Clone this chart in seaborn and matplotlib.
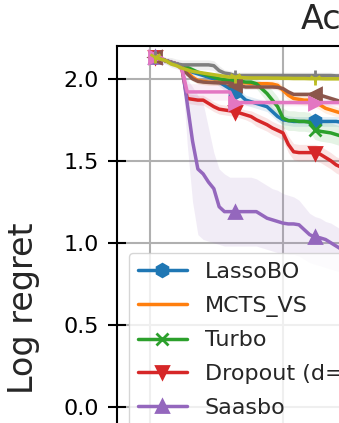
import matplotlib
matplotlib.use("Agg")
import matplotlib.pyplot as plt
import seaborn as sns

# ---------------- data ----------------
iterations = [2, 4, 6, 8, 10, 12, 14, 16, 18, 20, 22, 24, 26, 28, 30, 32, 34, 36, 38,
              40, 42, 44, 46, 48, 50, 52, 54, 56, 58, 60, 62, 64, 66, 68, 70, 72, 74, 76]

names = ["LassoBO", "MCTS_VS", "Turbo", "Dropout (d=10)", "Saasbo",
         "HeSBO", "Alebo", "Random", "CMA-ES"]

lasso = [2.13, 2.12, 2.11, 2.10, 2.09, 2.08, 2.06, 2.04, 2.03, 2.02, 2.01, 2.00, 1.98, 1.96,
         1.94, 1.92, 1.90, 1.87, 1.86, 1.85, 1.84, 1.83, 1.80, 1.77, 1.75, 1.745, 1.74, 1.74,
         1.74, 1.74, 1.74, 1.74, 1.74, 1.74, 1.74, 1.735, 1.735, 1.735]
mcts = [2.13, 2.12, 2.11, 2.10, 2.09, 2.08, 2.04, 2.01, 1.99, 1.985, 1.98, 1.98, 1.98, 1.978,
        1.976, 1.975, 1.975, 1.975, 1.972, 1.97, 1.97, 1.97, 1.968, 1.96, 1.93, 1.90, 1.88,
        1.875, 1.87, 1.87, 1.86, 1.84, 1.82, 1.81, 1.80, 1.79, 1.78, 1.77]
turbo = [2.13, 2.12, 2.11, 2.10, 2.09, 2.08, 2.07, 2.055, 2.04, 2.03, 2.02, 2.01, 2.00, 1.995,
         1.99, 1.985, 1.985, 1.98, 1.98, 1.97, 1.94, 1.91, 1.87, 1.83, 1.76, 1.745, 1.745,
         1.74, 1.74, 1.735, 1.69, 1.68, 1.675, 1.67, 1.66, 1.65, 1.64, 1.63]
dropout = [2.13, 2.12, 2.11, 2.10, 2.09, 2.06, 1.88, 1.875, 1.87, 1.87, 1.85, 1.83, 1.815, 1.81,
           1.805, 1.80, 1.79, 1.78, 1.77, 1.75, 1.735, 1.72, 1.70, 1.685, 1.67, 1.60, 1.555,
           1.55, 1.55, 1.55, 1.55, 1.54, 1.52, 1.50, 1.475, 1.46, 1.45, 1.44]
saasbo = [2.13, 2.12, 2.11, 2.10, 2.09, 2.08, 1.85, 1.62, 1.45, 1.42, 1.37, 1.33, 1.22, 1.19,
          1.19, 1.19, 1.19, 1.19, 1.19, 1.19, 1.17, 1.15, 1.14, 1.13, 1.12, 1.115, 1.115,
          1.11, 1.08, 1.05, 1.035, 1.03, 1.02, 1.00, 0.98, 0.96, 0.95, 0.94]
hesbo = [2.13, 2.12, 2.11, 2.10, 2.09, 2.07, 2.03, 2.00, 1.985, 1.98, 1.978, 1.976, 1.975,
         1.975, 1.975, 1.965, 1.955, 1.95, 1.95, 1.95, 1.95, 1.95, 1.95, 1.948, 1.94, 1.92,
         1.905, 1.905, 1.905, 1.905, 1.905, 1.90, 1.89, 1.88, 1.87, 1.86, 1.85, 1.85]
alebo = [2.13, 2.12, 2.11, 2.10, 2.09, 2.06, 1.92, 1.92, 1.92, 1.92, 1.92, 1.92, 1.92, 1.92,
         1.92, 1.855, 1.855, 1.855, 1.855, 1.855, 1.855, 1.855, 1.855, 1.855, 1.855, 1.855,
         1.855, 1.855, 1.855, 1.855, 1.855, 1.855, 1.855, 1.855, 1.855, 1.855, 1.855, 1.855]
rand = [2.13, 2.12, 2.11, 2.10, 2.09, 2.085, 2.085, 2.085, 2.085, 2.085, 2.085, 2.08, 2.05,
        2.035, 2.03, 2.02, 2.02, 2.02, 2.02, 2.02, 2.02, 2.02, 2.02, 2.02, 2.02, 2.02, 2.02,
        2.02, 2.02, 2.02, 2.02, 2.02, 2.02, 2.02, 2.018, 2.018, 2.018, 2.018]
cmaes = [2.13, 2.12, 2.11, 2.09, 2.08, 2.065, 2.055, 2.045, 2.04, 2.035, 2.03, 2.025, 2.02,
         2.015, 2.01, 2.01, 2.008, 2.006, 2.005, 2.005, 2.005, 2.005, 2.004, 2.004, 2.003,
         2.003, 2.002, 2.002, 2.002, 2.001, 2.001, 2.001, 2.0, 2.0, 2.0, 2.0, 2.0, 2.0]

# half-widths of the shaded bands
lasso_sd = [0.01, 0.01, 0.01, 0.01, 0.01, 0.01, 0.015, 0.015, 0.02, 0.02, 0.02, 0.02, 0.025,
            0.03, 0.03, 0.03, 0.03, 0.03, 0.03, 0.03, 0.03, 0.03, 0.03, 0.03, 0.03, 0.03, 0.03,
            0.03, 0.03, 0.03, 0.03, 0.03, 0.03, 0.03, 0.03, 0.03, 0.03, 0.03]
mcts_sd = [0.01, 0.01, 0.01, 0.01, 0.01, 0.01, 0.02, 0.02, 0.02, 0.02, 0.02, 0.02, 0.02, 0.02,
           0.02, 0.02, 0.02, 0.02, 0.02, 0.02, 0.02, 0.02, 0.02, 0.025, 0.03, 0.03, 0.03, 0.03,
           0.03, 0.03, 0.03, 0.03, 0.03, 0.03, 0.03, 0.03, 0.03, 0.03]
turbo_sd = [0.01, 0.01, 0.01, 0.01, 0.01, 0.01, 0.015, 0.015, 0.015, 0.015, 0.015, 0.02, 0.02,
            0.02, 0.02, 0.02, 0.02, 0.02, 0.02, 0.03, 0.04, 0.05, 0.06, 0.06, 0.06, 0.06, 0.06,
            0.06, 0.06, 0.06, 0.06, 0.06, 0.06, 0.06, 0.06, 0.06, 0.06, 0.06]
dropout_sd = [0.01, 0.01, 0.01, 0.01, 0.01, 0.02, 0.03, 0.03, 0.03, 0.03, 0.03, 0.03, 0.03, 0.03,
              0.03, 0.03, 0.03, 0.03, 0.035, 0.04, 0.04, 0.04, 0.04, 0.04, 0.045, 0.05, 0.05,
              0.05, 0.05, 0.05, 0.05, 0.05, 0.05, 0.05, 0.05, 0.05, 0.05, 0.05]
saasbo_hi = [2.15, 2.14, 2.13, 2.12, 2.11, 2.10, 2.00, 1.95, 1.90, 1.85, 1.70, 1.55, 1.45, 1.42,
             1.40, 1.40, 1.40, 1.40, 1.40, 1.39, 1.37, 1.35, 1.33, 1.32, 1.30, 1.29, 1.28, 1.26,
             1.22, 1.18, 1.16, 1.15, 1.13, 1.12, 1.10, 1.08, 1.07, 1.06]
saasbo_lo = [2.11, 2.10, 2.09, 2.08, 2.07, 2.06, 1.60, 1.25, 1.05, 1.02, 1.01, 1.00, 0.99, 0.98,
             0.98, 0.98, 0.98, 0.98, 0.98, 0.98, 0.97, 0.96, 0.95, 0.94, 0.94, 0.93, 0.93, 0.92,
             0.90, 0.88, 0.87, 0.86, 0.85, 0.84, 0.83, 0.82, 0.81, 0.80]
hesbo_sd = [0.015] * 38
alebo_sd = [0.01, 0.01, 0.01, 0.01, 0.02, 0.03, 0.05, 0.05, 0.05, 0.05, 0.05, 0.05, 0.05, 0.05,
            0.05, 0.02, 0.02, 0.02, 0.02, 0.02, 0.02, 0.02, 0.02, 0.02, 0.02, 0.02, 0.02, 0.02,
            0.02, 0.02, 0.02, 0.02, 0.02, 0.02, 0.02, 0.02, 0.02, 0.02]
rand_sd = [0.02, 0.02, 0.02, 0.03, 0.03, 0.03, 0.03, 0.03, 0.03, 0.03, 0.03, 0.03, 0.03, 0.02,
           0.02, 0.02, 0.02, 0.02, 0.02, 0.02, 0.02, 0.02, 0.02, 0.02, 0.02, 0.02, 0.02, 0.02,
           0.02, 0.02, 0.02, 0.02, 0.02, 0.02, 0.02, 0.02, 0.02, 0.02]
cmaes_sd = [0.01] * 38

means = [lasso, mcts, turbo, dropout, saasbo, hesbo, alebo, rand, cmaes]
sds = [lasso_sd, mcts_sd, turbo_sd, dropout_sd, None, hesbo_sd, alebo_sd, rand_sd, cmaes_sd]
colors = sns.color_palette("tab10", 9)
markers = ["h", "", "x", "v", "^", "<", ">", "|", "1"]

y_ticks = [0.0, 0.5, 1.0, 1.5, 2.0]
x_ticks = [0, 50, 100, 150, 200, 250]

# ---------------- figure ----------------
sns.set_style("ticks")
plt.rcParams["font.family"] = ["DejaVu Sans"]

W, H = 339, 423
fig = plt.figure(figsize=(W / 100, H / 100), dpi=100)
ax_w = 731.5 / W
ax_h = 524.8 / H
ax_top = 1 - 46 / H
ax = fig.add_axes([117 / W, ax_top - ax_h, ax_w, ax_h])

for name, col, mk, m, sd in zip(names, colors, markers, means, sds):
    if sd is None:
        lo, hi = saasbo_lo, saasbo_hi
    else:
        lo = [a - b for a, b in zip(m, sd)]
        hi = [a + b for a, b in zip(m, sd)]
    ax.fill_between(iterations, lo, hi, color=col, alpha=0.12, lw=0)
    sns.lineplot(x=iterations, y=m, ax=ax, color=col, marker=mk, markevery=15,
                 lw=2.5, ms=9, mec=col, mfc=col, mew=2, label=name, errorbar=None)

ax.set_xlim(-12.4, 262.6)
ax.set_ylim(-1.0, 2.2)
ax.set_yticks(y_ticks)
ax.set_xticks(x_ticks)
ax.grid(True, color="#b0b0b0", lw=1.5)
ax.set_axisbelow(True)
for s in ax.spines.values():
    s.set_visible(True)
    s.set_color("black")
    s.set_linewidth(1.5)
ax.tick_params(direction="inout", length=13, width=1.5, pad=6.5, labelsize=16,
               colors="black")
ax.tick_params(axis="x", labelbottom=False)
ax.set_xlabel("")
ax.set_ylabel("Log regret", fontsize=24)
ax.yaxis.set_label_coords(-0.105, 0.5)
ax.set_title("Ackley", fontsize=24, loc="left", x=(301 - 117) / 731.5, pad=12)

handles, labels = ax.get_legend_handles_labels()
ax.legend(handles[:5], labels[:5], loc="upper left",
          bbox_to_anchor=(129 / W, 1 - 253 / H),
          bbox_transform=fig.transFigure, borderaxespad=0, fontsize=16,
          handlelength=2.2, handletextpad=0.8, labelspacing=0.62, borderpad=0.4,
          framealpha=0.8, edgecolor="0.8", fancybox=True)

fig.savefig("out.png", dpi=100)
